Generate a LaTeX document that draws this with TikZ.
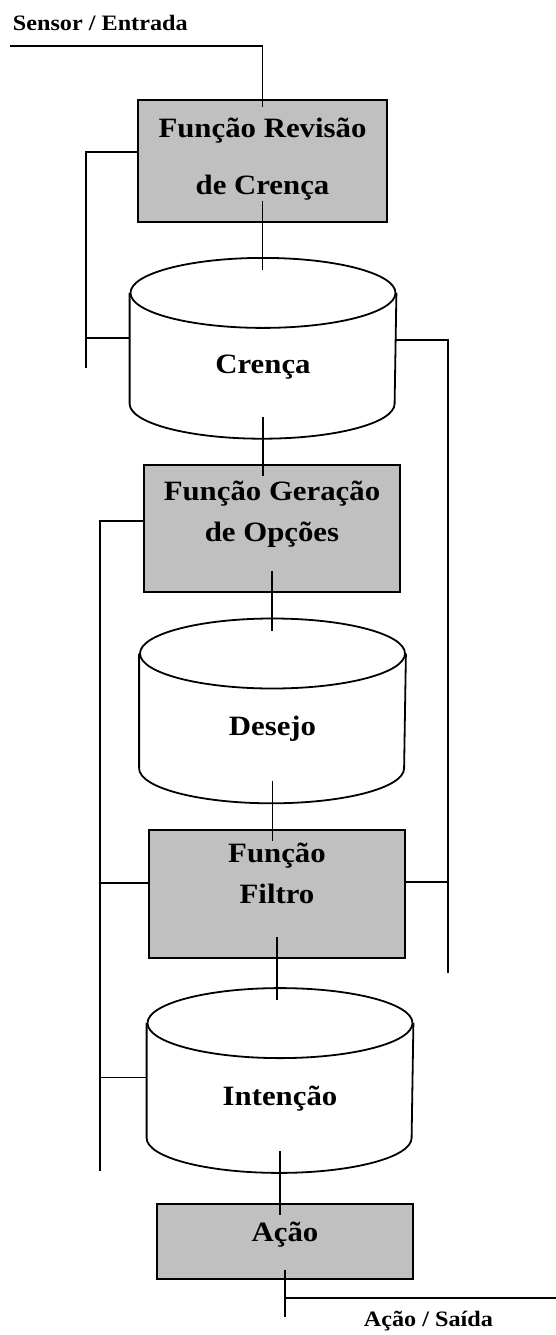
\documentclass[tikz,border=0pt]{standalone}
\usepackage{fontspec}
\setmainfont[FakeStretch=1.1]{Liberation Serif}
\usetikzlibrary{positioning}
\definecolor{boxgray}{HTML}{C0C0C0}
\tikzset{
  bdi/.style={
	x=1pt, y=1pt, % one unit is one pixel of the sketch
	line width=1.8pt, % every line is drawn thick
	fnbox/.style={draw, fill=boxgray, minimum width=256pt, minimum height=127pt, inner sep=0pt, align=center, font=\bfseries\fontsize{28}{41}\selectfont}, % the grey function boxes
	store/.style={minimum width=265pt, minimum height=183pt, inner sep=0pt, text height=55pt, text depth=5pt, font=\bfseries\fontsize{28}{33}\selectfont}, % the cylinders, outline comes from \drawstore
	link/.style={shorten <=-22pt, shorten >=-12pt}, % the lines run into the shapes
	lbl/.style={inner sep=0pt, font=\bfseries\fontsize{22}{26}\selectfont}, % input and output labels
  }
}
% outline of a cylinder round a store node
\newcommand{\drawstore}[1]{%
  \draw ([yshift=-35pt]#1.north west) -- ([yshift=35pt]#1.south west)
    arc[start angle=180, end angle=360, x radius=132.5pt, y radius=35pt] -- ([yshift=-35pt]#1.north east);
  \draw ([yshift=-35pt]#1.north) ellipse [x radius=132.5pt, y radius=35pt];
}

\begin{document}
\begin{tikzpicture}[bdi]
\useasboundingbox (0,0) rectangle (556,-1335);
\node[fnbox, minimum width=249pt, minimum height=122pt, text depth=9pt] (rev) at (262.5,-161) {Função Revisão\\[16pt] de Crença};
\node[store, minimum height=179pt, below=35pt of rev, xshift=0.5pt] (crenca) {Crença};
\node[fnbox, text depth=34pt, below=25pt of crenca, xshift=9pt] (opcoes) {Função Geração\\ de Opções};
\node[store, below=26pt of opcoes, xshift=0.5pt] (desejo) {Desejo};
\node[fnbox, minimum height=128pt, text depth=41pt, below=26pt of desejo, xshift=4.5pt] (filtro) {Função\\ Filtro};
\node[store, below=29pt of filtro, xshift=3pt] (intencao) {Intenção};
\node[fnbox, minimum height=75pt, text depth=20pt, below=30pt of intencao, xshift=5pt] (acao) {Ação};
\drawstore{crenca}
\drawstore{desejo}
\drawstore{intencao}

\node[lbl, anchor=base west] (sensor) at (12,-31) {Sensor / Entrada};
\node[lbl, anchor=base west] (saida) at (363,-1326) {Ação / Saída};
\coordinate (entrada) at (10,-46);
\coordinate (fbA) at (86,-368);
\coordinate (fbB) at (448,-973);
\coordinate (fbC) at (100,-1171);
\coordinate (fim) at (556,-1298);

\draw (entrada) -| ([yshift=-8pt]rev.north);
\draw[link] (rev.south) -- (rev.south |- crenca.north);
\draw[link] (crenca.south) -- (crenca.south |- opcoes.north);
\draw[link] (opcoes.south) -- (opcoes.south |- desejo.north);
\draw[link] (desejo.south) -- (desejo.south |- filtro.north);
\draw[link] (filtro.south) -- (filtro.south |- intencao.north);
\draw[link] (intencao.south) -- (intencao.south |- acao.north);
\draw ([yshift=9pt]rev.west) -| (fbA);
\draw ([yshift=10pt]crenca.west) -| (fbA);
\draw ([yshift=8pt]crenca.east) -| (fbB);
\draw ([yshift=12pt]filtro.east) -| (fbB);
\draw ([yshift=7pt]opcoes.west) -| (fbC);
\draw ([yshift=11pt]filtro.west) -| (fbC);
\draw ([yshift=3pt]intencao.west) -| (fbC);
\draw ([yshift=10pt]acao.south) -- ++(0,-47);
\draw (acao.south |- fim) -- (fim);
\end{tikzpicture}
\end{document}
